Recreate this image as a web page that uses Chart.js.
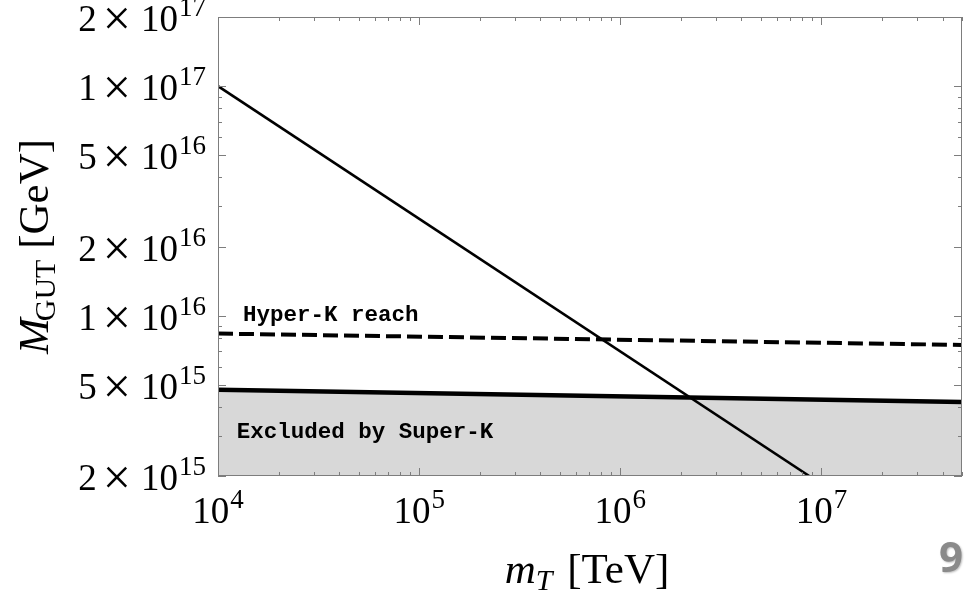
<!DOCTYPE html>
<html>
<head>
<meta charset="utf-8">
<script src="https://cdn.jsdelivr.net/npm/chart.js@4"></script>
<style>
  html, body { margin: 0; padding: 0; background: #ffffff; }
  #wrap { width: 971px; height: 591px; position: relative; }
</style>
</head>
<body>
<div id="wrap"><canvas id="c" width="971" height="591"></canvas></div>
<script>
// Axis ranges: m_T [TeV] and M_GUT [GeV]
const xRange = [1e4, 5e7];
const yRange = [2e15, 2e17];

// Super-K exclusion boundary
const superKX = [1e4, 5e7];
const superKY = [4.75e15, 4.2e15];

// Hyper-K projected reach
const hyperKX = [1e4, 5e7];
const hyperKY = [8.35e15, 7.45e15];

// Gauge-coupling unification line
const unifX = [1e4, 8.7e6];
const unifY = [1e17, 2e15];

// Labelled ticks
const xMajorTicks = [1e4, 1e5, 1e6, 1e7];
const xTickExp = ['4', '5', '6', '7'];
const yMajorTicks = [2e15, 5e15, 1e16, 2e16, 5e16, 1e17, 2e17];
const yTickMant = ['2', '5', '1', '2', '5', '1', '2'];
const yTickExp = ['15', '15', '16', '16', '16', '17', '17'];

// Region labels
const hyperKLabel = { text: 'Hyper-K reach', x: 1.33e4, y: 1.0e16 };
const superKLabel = { text: 'Excluded by Super-K', x: 1.24e4, y: 3.1e15 };

const pts = (xs, ys) => xs.map((x, i) => ({ x: x, y: ys[i] }));

// minor tick positions: integer multiples inside each decade
function minorTicks(min, max) {
  const out = [];
  for (let e = Math.floor(Math.log10(min)); e <= Math.ceil(Math.log10(max)); e++) {
    for (let m = 1; m <= 9; m++) {
      const v = m * Math.pow(10, e);
      if (v >= min * 0.999 && v <= max * 1.001) out.push(v);
    }
  }
  return out;
}

const SERIF = "'Liberation Serif', 'Times New Roman', serif";
const BASE_FONT = "37px " + SERIF;
const SUP_FONT = "27px " + SERIF;
const TIMES_FONT = "50px " + SERIF;
const SUP_RAISE = 15;

function textW(ctx, font, s) { ctx.font = font; return ctx.measureText(s).width; }

const framePlugin = {
  id: 'frame',
  afterDatasetsDraw(chart) {
    const { ctx, chartArea: a, scales: { x, y } } = chart;
    ctx.save();

    // frame
    ctx.strokeStyle = '#7d7d7d';
    ctx.lineWidth = 1;
    ctx.strokeRect(Math.round(a.left) + 0.5, Math.round(a.top) + 0.5,
                   Math.round(a.right - a.left) - 1, Math.round(a.bottom - a.top) - 1);

    // ticks on all four sides, pointing inwards
    const xMinor = minorTicks(xRange[0], xRange[1]);
    const yMinor = minorTicks(yRange[0], yRange[1]).filter(v => v < 1.01e17 || v > 1.99e17);
    ctx.beginPath();
    xMinor.forEach(v => {
      const px = Math.round(x.getPixelForValue(v)) + 0.5;
      const major = xMajorTicks.some(t => Math.abs(t / v - 1) < 1e-6);
      const len = major ? 8 : 4;
      ctx.moveTo(px, a.bottom); ctx.lineTo(px, a.bottom - len);
      ctx.moveTo(px, a.top); ctx.lineTo(px, a.top + len);
    });
    yMinor.forEach(v => {
      const py = Math.round(y.getPixelForValue(v)) + 0.5;
      const major = yMajorTicks.some(t => Math.abs(t / v - 1) < 1e-6);
      const len = major ? 8 : 4;
      ctx.moveTo(a.left, py); ctx.lineTo(a.left + len, py);
      ctx.moveTo(a.right, py); ctx.lineTo(a.right - len, py);
    });
    ctx.stroke();

    // x tick labels: 10^n centred under the tick
    ctx.fillStyle = '#000000';
    ctx.textBaseline = 'alphabetic';
    ctx.textAlign = 'left';
    xMajorTicks.forEach((v, i) => {
      const w1 = textW(ctx, BASE_FONT, '10');
      const w2 = textW(ctx, SUP_FONT, xTickExp[i]);
      const left = x.getPixelForValue(v) - (w1 + w2 + 1) / 2;
      ctx.font = BASE_FONT; ctx.fillText('10', left, 523);
      ctx.font = SUP_FONT; ctx.fillText(xTickExp[i], left + w1 + 1, 523 - SUP_RAISE);
    });

    // y tick labels: m × 10^n, right aligned against the frame
    yMajorTicks.forEach((v, i) => {
      const base = y.getPixelForValue(v) + 14;
      const supW = textW(ctx, SUP_FONT, yTickExp[i]);
      const supLeft = 206 - supW;
      const tenW = textW(ctx, BASE_FONT, '10');
      const tenLeft = supLeft - 1 - tenW;
      const timesW = textW(ctx, TIMES_FONT, '\u00D7');
      const timesLeft = tenLeft - 10 - timesW;
      const mantW = textW(ctx, BASE_FONT, yTickMant[i]);
      const mantLeft = timesLeft - 6 - mantW;
      ctx.font = BASE_FONT;
      ctx.fillText(yTickMant[i], mantLeft, base);
      ctx.fillText('10', tenLeft, base);
      ctx.font = TIMES_FONT;
      ctx.fillText('\u00D7', timesLeft, base + 4);
      ctx.font = SUP_FONT;
      ctx.fillText(yTickExp[i], supLeft, base - SUP_RAISE);
    });

    // x axis title: m_T [TeV], centred on the plot
    const tF = 'italic 43px ' + SERIF, sF = 'italic 30px ' + SERIF, rF = '43px ' + SERIF;
    const mW = textW(ctx, tF, 'm'), TW = textW(ctx, sF, 'T'), unitW = textW(ctx, rF, ' [TeV]');
    let cx = (a.left + a.right) / 2 - 3 - (mW + TW + 4 + unitW) / 2;
    ctx.font = tF; ctx.fillText('m', cx, 583);
    cx += mW;
    ctx.font = sF; ctx.fillText('T', cx, 590);
    cx += TW + 4;
    ctx.font = rF; ctx.fillText(' [TeV]', cx, 583);

    // y axis title: M_GUT [GeV], rotated and centred on the plot
    const MF = 'italic 43px ' + SERIF, gF = '30px ' + SERIF;
    const MW = textW(ctx, MF, 'M'), gW = textW(ctx, gF, 'GUT'), gevW = textW(ctx, rF, ' [GeV]');
    const total = MW - 3 + gW + gevW;
    ctx.save();
    ctx.translate(48, (a.top + a.bottom) / 2 + total / 2);
    ctx.rotate(-Math.PI / 2);
    let cy = 0;
    ctx.font = MF; ctx.fillText('M', cy, 0);
    cy += MW - 3;
    ctx.font = gF; ctx.fillText('GUT', cy, 7);
    cy += gW;
    ctx.font = rF; ctx.fillText(' [GeV]', cy, 0);
    ctx.restore();

    // region labels
    ctx.font = "bold 22.5px 'Liberation Mono', 'Courier New', monospace";
    ctx.textBaseline = 'middle';
    ctx.fillText(hyperKLabel.text, x.getPixelForValue(hyperKLabel.x), y.getPixelForValue(hyperKLabel.y));
    ctx.fillText(superKLabel.text, x.getPixelForValue(superKLabel.x), y.getPixelForValue(superKLabel.y));

    // page number
    ctx.textBaseline = 'alphabetic';
    ctx.font = "bold 42px 'Open Sans', 'Noto Sans', sans-serif";
    ctx.fillStyle = '#8a8a8a';
    ctx.shadowColor = 'rgba(0,0,0,0.25)';
    ctx.shadowBlur = 2;
    ctx.shadowOffsetX = 1;
    ctx.shadowOffsetY = 1;
    ctx.fillText('9', 939, 572);

    ctx.restore();
  }
};

new Chart(document.getElementById('c'), {
  type: 'line',
  data: {
    datasets: [
      {
        label: 'Unification',
        data: pts(unifX, unifY),
        borderColor: '#000000',
        borderWidth: 2.6,
        pointRadius: 0,
        fill: false
      },
      {
        label: 'Hyper-K reach',
        data: pts(hyperKX, hyperKY),
        borderColor: '#000000',
        borderWidth: 4,
        borderDash: [15, 6],
        pointRadius: 0,
        fill: false
      },
      {
        label: 'Excluded by Super-K',
        data: pts(superKX, superKY),
        borderColor: '#000000',
        borderWidth: 4.5,
        backgroundColor: '#d8d8d8',
        pointRadius: 0,
        fill: 'start'
      }
    ]
  },
  options: {
    responsive: false,
    animation: false,
    devicePixelRatio: 1,
    layout: { padding: { left: 218, top: 17, right: 9, bottom: 115 } },
    plugins: { legend: { display: false }, tooltip: { enabled: false } },
    scales: {
      x: { type: 'logarithmic', min: xRange[0], max: xRange[1], display: false },
      y: { type: 'logarithmic', min: yRange[0], max: yRange[1], display: false }
    }
  },
  plugins: [framePlugin]
});
</script>
</body>
</html>
